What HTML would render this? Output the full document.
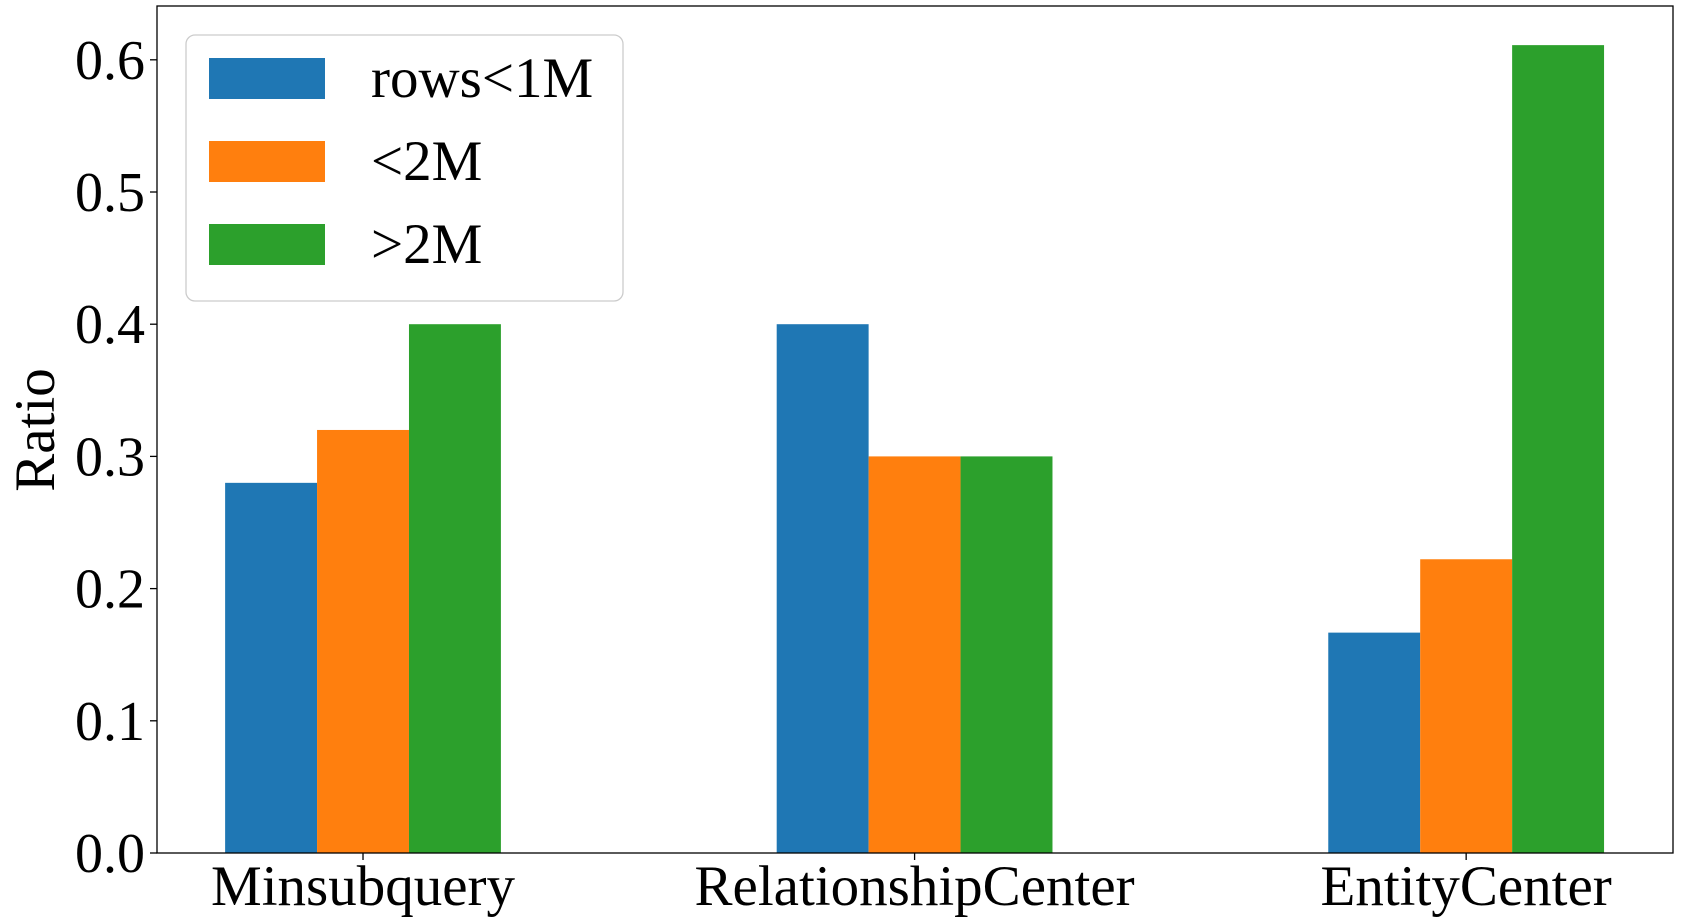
<!DOCTYPE html>
<html><head><meta charset="utf-8"><style>
html,body{margin:0;padding:0;background:#fff;}
svg{display:block;font-family:"Liberation Serif",serif;}
</style></head><body>
<svg id="chart" width="1682" height="917" viewBox="0 0 1682 917" xmlns="http://www.w3.org/2000/svg">
<g id="bars"></g>
<g id="axes"></g>
<g id="legend"></g>
</svg>
<script>
const categories = ["Minsubquery", "RelationshipCenter", "EntityCenter"];
const seriesNames = ["rows<1M", "<2M", ">2M"];
const seriesSmall = [0.28, 0.4, 0.1667];
const seriesMid = [0.32, 0.3, 0.2222];
const seriesLarge = [0.4, 0.3, 0.6111];
const yTicks = [0.0, 0.1, 0.2, 0.3, 0.4, 0.5, 0.6];
const colors = ["#1f77b4", "#ff7f0e", "#2ca02c"];
const series = [seriesSmall, seriesMid, seriesLarge];

const L = 157, R = 1673, T = 6, B = 853;
const xMin = -0.3735, xMax = 2.375, yMax = 0.6407;
const NS = "http://www.w3.org/2000/svg";
function xs(v){ return L + (v - xMin) / (xMax - xMin) * (R - L); }
function ys(v){ return B - v / yMax * (B - T); }
function mk(tag, attrs, parent){ const e = document.createElementNS(NS, tag); for (const k in attrs) e.setAttribute(k, attrs[k]); parent.appendChild(e); return e; }

const barsG = document.getElementById('bars');
const axesG = document.getElementById('axes');
const legG = document.getElementById('legend');
const bw = 1/6;
series.forEach((s, si) => {
  s.forEach((v, ci) => {
    const x0 = xs(ci + (si - 1) * bw - bw/2), x1 = xs(ci + (si - 1) * bw + bw/2);
    const r = mk('rect', {x: x0, y: ys(v), width: x1 - x0, height: B - ys(v), fill: colors[si]}, barsG);
    
    
  });
});

const frame = mk('rect', {x: L, y: T, width: R - L, height: B - T, fill: 'none', stroke: '#000', 'stroke-width': 1.3}, axesG);



yTicks.forEach(t => {
  const y = ys(t);
  const tk = mk('line', {x1: L - 7, x2: L, y1: y, y2: y, stroke: '#000', 'stroke-width': 1.3}, axesG);
  
  
  const lb = mk('text', {x: L - 12, y: y + 19, 'text-anchor': 'end', 'font-size': 56}, axesG);
  lb.textContent = t.toFixed(1);
  
  
});
categories.forEach((c, i) => {
  const x = xs(i);
  const tk = mk('line', {x1: x, x2: x, y1: B, y2: B + 7, stroke: '#000', 'stroke-width': 1.3}, axesG);
  
  
  const lb = mk('text', {x: x, y: 905, 'text-anchor': 'middle', 'font-size': 57}, axesG);
  lb.textContent = c;
  
  
});
const yt = mk('text', {x: 0, y: 0, 'text-anchor': 'middle', 'font-size': 57, transform: 'translate(54,430) rotate(-90)'}, axesG);
yt.textContent = 'Ratio';



const box = mk('rect', {x: 186, y: 35, width: 437, height: 266, rx: 9, fill: '#fff', 'fill-opacity': 0.8, stroke: '#ccc', 'stroke-width': 1.3}, legG);


seriesNames.forEach((n, i) => {
  const y = 58 + i * 83;
  const p = mk('rect', {x: 209, y: y, width: 116, height: 41, fill: colors[i]}, legG);
  
  
  const t = mk('text', {x: 371, y: y + 39, 'font-size': 57}, legG);
  t.textContent = n;
  
  
});
</script>
</body></html>
